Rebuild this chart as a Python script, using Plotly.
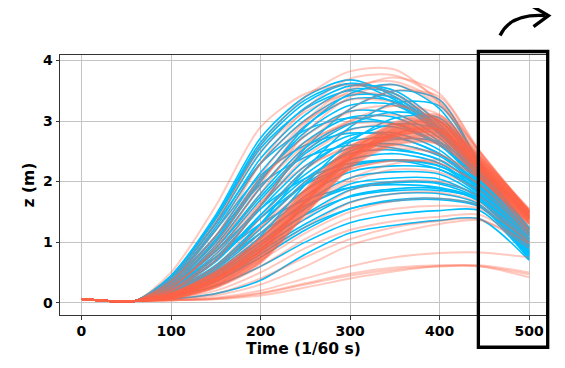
import plotly.graph_objects as go

# Time samples (1/60 s): shared flat start, then per-curve values
time_start = [0, 30, 60]
z_start = [0.06, 0.03, 0.03]
time_rise = [100, 150, 200, 250, 300, 350, 400, 445, 500]

# Blue trajectories (z in m at time_rise)
blue_curves = [
    [0.45, 1.45, 2.72, 3.40, 3.68, 3.40, 2.85, 2.22, 1.24],
    [0.42, 1.40, 2.60, 3.30, 3.62, 3.45, 2.90, 2.20, 1.22],
    [0.40, 1.32, 2.48, 3.22, 3.58, 3.50, 2.95, 2.18, 1.20],
    [0.38, 1.25, 2.38, 3.10, 3.52, 3.45, 2.88, 2.15, 1.17],
    [0.36, 1.20, 2.30, 3.02, 3.42, 3.38, 2.88, 2.12, 1.14],
    [0.33, 1.10, 2.15, 2.92, 3.36, 3.32, 2.82, 2.10, 1.12],
    [0.31, 1.02, 2.02, 2.82, 3.26, 3.26, 2.78, 2.07, 1.10],
    [0.30, 1.05, 2.06, 2.76, 3.16, 3.12, 2.72, 2.03, 1.07],
    [0.28, 0.95, 1.90, 2.66, 3.06, 3.06, 2.66, 2.00, 1.04],
    [0.27, 0.90, 1.80, 2.56, 2.96, 2.96, 2.62, 1.97, 1.02],
    [0.26, 0.85, 1.70, 2.46, 2.86, 2.90, 2.60, 1.95, 1.00],
    [0.25, 0.80, 1.60, 2.36, 2.76, 2.80, 2.52, 1.92, 0.97],
    [0.23, 0.75, 1.55, 2.26, 2.66, 2.72, 2.46, 1.90, 0.95],
    [0.22, 0.70, 1.45, 2.12, 2.56, 2.62, 2.42, 1.88, 0.93],
    [0.21, 0.68, 1.40, 2.05, 2.46, 2.52, 2.36, 1.85, 0.91],
    [0.20, 0.62, 1.30, 1.96, 2.36, 2.46, 2.30, 1.82, 0.89],
    [0.18, 0.58, 1.22, 1.86, 2.26, 2.36, 2.26, 1.80, 0.87],
    [0.18, 0.55, 1.15, 1.76, 2.16, 2.26, 2.20, 1.78, 0.85],
    [0.16, 0.52, 1.08, 1.66, 2.06, 2.16, 2.12, 1.75, 0.83],
    [0.15, 0.48, 1.00, 1.56, 1.96, 2.06, 2.04, 1.72, 0.82],
    [0.15, 0.45, 0.95, 1.46, 1.86, 1.98, 1.96, 1.70, 0.80],
    [0.14, 0.42, 0.90, 1.38, 1.76, 1.88, 1.88, 1.67, 0.78],
    [0.13, 0.40, 0.85, 1.30, 1.66, 1.80, 1.80, 1.62, 0.76],
    [0.12, 0.35, 0.75, 1.20, 1.55, 1.68, 1.70, 1.58, 0.74],
    [0.10, 0.28, 0.60, 1.00, 1.32, 1.46, 1.52, 1.52, 0.72],
    [0.06, 0.15, 0.37, 0.80, 1.15, 1.28, 1.36, 1.38, 0.70],
    [0.40, 1.30, 2.30, 2.85, 3.05, 2.95, 2.60, 2.05, 1.05],
    [0.38, 1.20, 2.10, 2.60, 2.80, 2.75, 2.45, 1.95, 1.00],
    [0.35, 1.10, 1.95, 2.40, 2.60, 2.55, 2.35, 1.90, 0.95],
    [0.15, 0.55, 1.30, 2.20, 2.90, 3.30, 3.25, 2.30, 1.20],
    [0.12, 0.45, 1.10, 1.95, 2.65, 3.05, 3.05, 2.25, 1.15],
    [0.20, 0.70, 1.60, 2.55, 3.20, 3.50, 3.35, 2.30, 1.22],
    [0.30, 1.00, 2.00, 2.90, 3.45, 3.60, 3.20, 2.25, 1.20],
    [0.28, 0.90, 1.75, 2.50, 2.95, 3.15, 3.00, 2.20, 1.15],
    [0.22, 0.70, 1.45, 2.20, 2.70, 2.95, 2.85, 2.15, 1.10],
    [0.18, 0.60, 1.30, 2.00, 2.50, 2.70, 2.65, 2.10, 1.05],
    [0.25, 0.75, 1.40, 1.95, 2.25, 2.35, 2.25, 1.90, 0.95],
    [0.30, 0.85, 1.55, 2.05, 2.30, 2.35, 2.20, 1.85, 0.92],
    [0.20, 0.60, 1.15, 1.60, 1.90, 2.00, 1.98, 1.75, 0.85],
    [0.18, 0.50, 1.00, 1.45, 1.75, 1.85, 1.85, 1.70, 0.82],
    [0.28, 0.75, 1.30, 1.70, 1.90, 1.95, 1.90, 1.70, 0.80],
    [0.12, 0.35, 0.80, 1.25, 1.55, 1.70, 1.72, 1.60, 0.78],
    [0.42, 1.38, 2.55, 3.20, 3.50, 3.30, 2.80, 2.18, 1.20],
    [0.44, 1.42, 2.65, 3.35, 3.62, 3.35, 2.85, 2.20, 1.22],
]

# Light (transparent) orange trajectories spread over the range
pink_curves = [
    [0.35, 1.30, 2.60, 3.40, 3.82, 3.85, 3.30, 2.50, 1.50],
    [0.50, 1.60, 2.90, 3.45, 3.60, 3.45, 3.00, 2.40, 1.45],
    [0.30, 1.10, 2.30, 3.20, 3.70, 3.75, 3.35, 2.48, 1.52],
    [0.25, 0.95, 2.10, 3.00, 3.55, 3.65, 3.30, 2.45, 1.50],
    [0.20, 0.80, 1.80, 2.80, 3.40, 3.60, 3.25, 2.42, 1.48],
    [0.35, 1.20, 2.30, 3.00, 3.35, 3.30, 2.90, 2.30, 1.40],
    [0.25, 0.90, 1.90, 2.60, 3.00, 3.10, 2.85, 2.25, 1.38],
    [0.20, 0.70, 1.60, 2.40, 2.85, 2.95, 2.75, 2.20, 1.35],
    [0.18, 0.60, 1.40, 2.20, 2.60, 2.75, 2.60, 2.10, 1.30],
    [0.15, 0.55, 1.25, 2.00, 2.45, 2.55, 2.45, 2.05, 1.25],
    [0.12, 0.45, 1.05, 1.75, 2.20, 2.35, 2.30, 1.95, 1.20],
    [0.12, 0.40, 0.95, 1.55, 2.00, 2.20, 2.15, 1.85, 1.15],
    [0.10, 0.35, 0.85, 1.40, 1.85, 2.00, 2.00, 1.75, 1.10],
    [0.10, 0.30, 0.75, 1.25, 1.65, 1.80, 1.82, 1.65, 1.05],
    [0.08, 0.25, 0.60, 1.05, 1.40, 1.55, 1.60, 1.55, 1.00],
    [0.07, 0.20, 0.50, 0.90, 1.20, 1.35, 1.42, 1.45, 0.95],
    [0.06, 0.15, 0.40, 0.75, 1.05, 1.25, 1.35, 1.38, 0.90],
    [0.04, 0.08, 0.20, 0.40, 0.60, 0.75, 0.82, 0.83, 0.75],
    [0.04, 0.06, 0.15, 0.30, 0.45, 0.55, 0.60, 0.62, 0.50],
    [0.04, 0.06, 0.12, 0.25, 0.40, 0.52, 0.60, 0.60, 0.42],
    [0.04, 0.07, 0.16, 0.32, 0.48, 0.58, 0.62, 0.60, 0.47],
    [0.40, 1.35, 2.50, 3.15, 3.45, 3.40, 2.95, 2.35, 1.42],
    [0.30, 1.00, 2.00, 2.75, 3.15, 3.25, 3.00, 2.30, 1.38],
    [0.22, 0.75, 1.65, 2.50, 3.00, 3.25, 3.10, 2.35, 1.40],
    [0.35, 1.10, 2.05, 2.65, 2.95, 2.95, 2.70, 2.20, 1.30],
    [0.15, 0.50, 1.15, 1.85, 2.40, 2.75, 2.80, 2.25, 1.32],
    [0.28, 0.85, 1.65, 2.25, 2.55, 2.60, 2.45, 2.05, 1.20],
    [0.20, 0.60, 1.25, 1.85, 2.20, 2.35, 2.30, 1.95, 1.12],
    [0.12, 0.40, 0.95, 1.60, 2.05, 2.30, 2.35, 2.05, 1.18],
    [0.10, 0.30, 0.70, 1.15, 1.50, 1.68, 1.72, 1.60, 1.00],
    [0.05, 0.12, 0.30, 0.60, 0.95, 1.15, 1.30, 1.36, 0.98],
    [0.25, 0.90, 1.95, 2.95, 3.50, 3.72, 3.45, 2.50, 1.50],
    [0.20, 0.70, 1.60, 2.60, 3.20, 3.50, 3.40, 2.48, 1.48],
]

# Dense orange band
band_curves = [
    [0.06, 0.25, 0.65, 1.45, 2.22, 2.65, 2.68, 2.09, 1.33],
    [0.06, 0.26, 0.67, 1.47, 2.23, 2.60, 2.62, 2.05, 1.30],
    [0.07, 0.27, 0.68, 1.48, 2.25, 2.69, 2.74, 2.14, 1.36],
    [0.07, 0.28, 0.70, 1.50, 2.26, 2.62, 2.64, 2.07, 1.31],
    [0.08, 0.29, 0.72, 1.52, 2.28, 2.74, 2.79, 2.18, 1.39],
    [0.08, 0.30, 0.74, 1.54, 2.29, 2.66, 2.70, 2.11, 1.34],
    [0.08, 0.32, 0.75, 1.55, 2.31, 2.78, 2.85, 2.23, 1.42],
    [0.09, 0.33, 0.77, 1.57, 2.32, 2.63, 2.66, 2.08, 1.32],
    [0.09, 0.34, 0.79, 1.59, 2.34, 2.81, 2.89, 2.26, 1.44],
    [0.10, 0.35, 0.81, 1.61, 2.35, 2.71, 2.75, 2.15, 1.37],
    [0.10, 0.36, 0.82, 1.62, 2.36, 2.86, 2.95, 2.30, 1.47],
    [0.10, 0.37, 0.84, 1.64, 2.38, 2.68, 2.72, 2.12, 1.35],
    [0.11, 0.38, 0.86, 1.66, 2.39, 2.90, 3.00, 2.35, 1.50],
    [0.11, 0.39, 0.87, 1.67, 2.40, 2.75, 2.81, 2.20, 1.40],
    [0.11, 0.39, 0.87, 1.67, 2.41, 2.95, 3.06, 2.39, 1.53],
    [0.12, 0.40, 0.89, 1.69, 2.42, 2.72, 2.77, 2.17, 1.38],
    [0.12, 0.41, 0.91, 1.71, 2.44, 2.78, 2.84, 2.22, 1.42],
    [0.12, 0.42, 0.93, 1.73, 2.45, 2.79, 2.86, 2.24, 1.43],
    [0.13, 0.43, 0.94, 1.74, 2.47, 2.98, 3.10, 2.42, 1.55],
    [0.13, 0.44, 0.96, 1.76, 2.48, 2.77, 2.83, 2.21, 1.41],
    [0.14, 0.46, 0.98, 1.78, 2.49, 2.93, 3.04, 2.38, 1.52],
    [0.14, 0.47, 0.99, 1.79, 2.51, 2.80, 2.87, 2.24, 1.43],
    [0.14, 0.48, 1.01, 1.81, 2.52, 2.89, 2.99, 2.33, 1.49],
    [0.15, 0.49, 1.03, 1.83, 2.54, 2.84, 2.93, 2.29, 1.46],
    [0.15, 0.50, 1.05, 1.85, 2.55, 2.96, 3.08, 2.41, 1.54],
    [0.16, 0.51, 1.06, 1.86, 2.57, 2.83, 2.91, 2.27, 1.45],
    [0.16, 0.52, 1.08, 1.88, 2.58, 2.92, 3.02, 2.36, 1.51],
    [0.11, 0.37, 0.85, 1.65, 2.39, 2.87, 2.97, 2.32, 1.48],
    [0.07, 0.27, 0.68, 1.48, 2.25, 2.80, 2.87, 2.24, 1.43],
    [0.08, 0.30, 0.74, 1.54, 2.29, 2.84, 2.93, 2.29, 1.46],
    [0.09, 0.34, 0.79, 1.59, 2.34, 2.77, 2.83, 2.21, 1.41],
    [0.10, 0.37, 0.84, 1.64, 2.38, 2.89, 2.99, 2.33, 1.49],
    [0.11, 0.39, 0.87, 1.67, 2.40, 2.74, 2.79, 2.18, 1.39],
    [0.12, 0.40, 0.89, 1.69, 2.42, 2.81, 2.89, 2.26, 1.44],
    [0.12, 0.42, 0.93, 1.73, 2.45, 2.92, 3.02, 2.36, 1.51],
    [0.13, 0.44, 0.96, 1.76, 2.48, 2.78, 2.85, 2.23, 1.42],
    [0.14, 0.47, 0.99, 1.79, 2.51, 2.86, 2.95, 2.30, 1.47],
    [0.15, 0.49, 1.03, 1.83, 2.54, 2.69, 2.74, 2.14, 1.36],
    [0.10, 0.36, 0.82, 1.62, 2.36, 2.79, 2.86, 2.24, 1.43],
    [0.12, 0.41, 0.91, 1.71, 2.44, 2.75, 2.81, 2.20, 1.40],
    [0.11, 0.39, 0.87, 1.67, 2.41, 2.83, 2.91, 2.27, 1.45],
    [0.11, 0.38, 0.86, 1.66, 2.39, 2.87, 2.97, 2.32, 1.48],
]

x_ticks = [0, 100, 200, 300, 400, 500]
y_ticks = [0, 1, 2, 3, 4]

BLUE = "#00BFFF"
ORANGE_T = "rgba(255,99,71,0.35)"

fig = go.Figure()
t_all = time_start + time_rise

for c in blue_curves:
    fig.add_trace(go.Scatter(
        x=t_all, y=z_start + c, mode="lines",
        line=dict(color=BLUE, width=1.6, shape="spline", smoothing=0.8),
        hoverinfo="skip", showlegend=False))

for c in pink_curves + band_curves:
    fig.add_trace(go.Scatter(
        x=t_all, y=z_start + c, mode="lines",
        line=dict(color=ORANGE_T, width=2.0, shape="spline", smoothing=0.8),
        hoverinfo="skip", showlegend=False))

# The page body adds an 8 px offset; work in page pixels and shift.
OFF = 8
FIG_W, FIG_H = 565 - OFF, 368 - OFF
L, R, T, B = 59.5 - OFF, 547.0 - OFF, 54.5 - OFF, 315.0 - OFF

def px(x):
    return ((x - OFF) - L) / (R - L)

def py(y):
    return (B - (y - OFF)) / (B - T)

shapes = [
    dict(type="rect", xref="paper", yref="paper",
         x0=px(478.3), x1=px(547.7), y0=py(347.3), y1=py(51),
         line=dict(color="black", width=3.3), fillcolor="rgba(0,0,0,0)", layer="above"),
    dict(type="path", xref="paper", yref="paper",
         path=f"M {px(500)},{py(35)} Q {px(510)},{py(13)} {px(545)},{py(15)}",
         line=dict(color="black", width=3.3), layer="above"),
    dict(type="path", xref="paper", yref="paper",
         path=f"M {px(532)},{py(5.5)} L {px(548.5)},{py(15)} L {px(533.5)},{py(26)}",
         line=dict(color="black", width=3.3), layer="above"),
]

axis_font = dict(family="DejaVu Sans", size=14, color="black")
title_font = dict(family="DejaVu Sans", size=15.5, color="black")
fig.update_layout(
    width=FIG_W, height=FIG_H,
    margin=dict(l=L, r=FIG_W - R, t=T, b=FIG_H - B, pad=0),
    paper_bgcolor="white", plot_bgcolor="white",
    shapes=shapes,
    xaxis=dict(
        range=[-24, 520], tickvals=x_ticks, ticktext=[f"<b>{v}</b>" for v in x_ticks],
        tickfont=axis_font, showgrid=True, gridcolor="#c4c4c4", gridwidth=1,
        zeroline=False, showline=True, linecolor="#333333", linewidth=1, mirror=True,
        ticks="outside", ticklen=3.5, tickcolor="#333333", automargin=False,
        title=dict(text="<b>Time (1/60 s)</b>", font=title_font, standoff=4),
    ),
    yaxis=dict(
        range=[-0.203, 4.09], tickvals=y_ticks, ticktext=[f"<b>{v}</b>" for v in y_ticks],
        tickfont=axis_font, showgrid=True, gridcolor="#c4c4c4", gridwidth=1,
        zeroline=False, showline=True, linecolor="#333333", linewidth=1, mirror=True,
        ticks="outside", ticklen=3.5, tickcolor="#333333", automargin=False,
        title=dict(text="<b>z (m)</b>", font=title_font, standoff=4),
    ),
)

fig.write_html("out.html")
